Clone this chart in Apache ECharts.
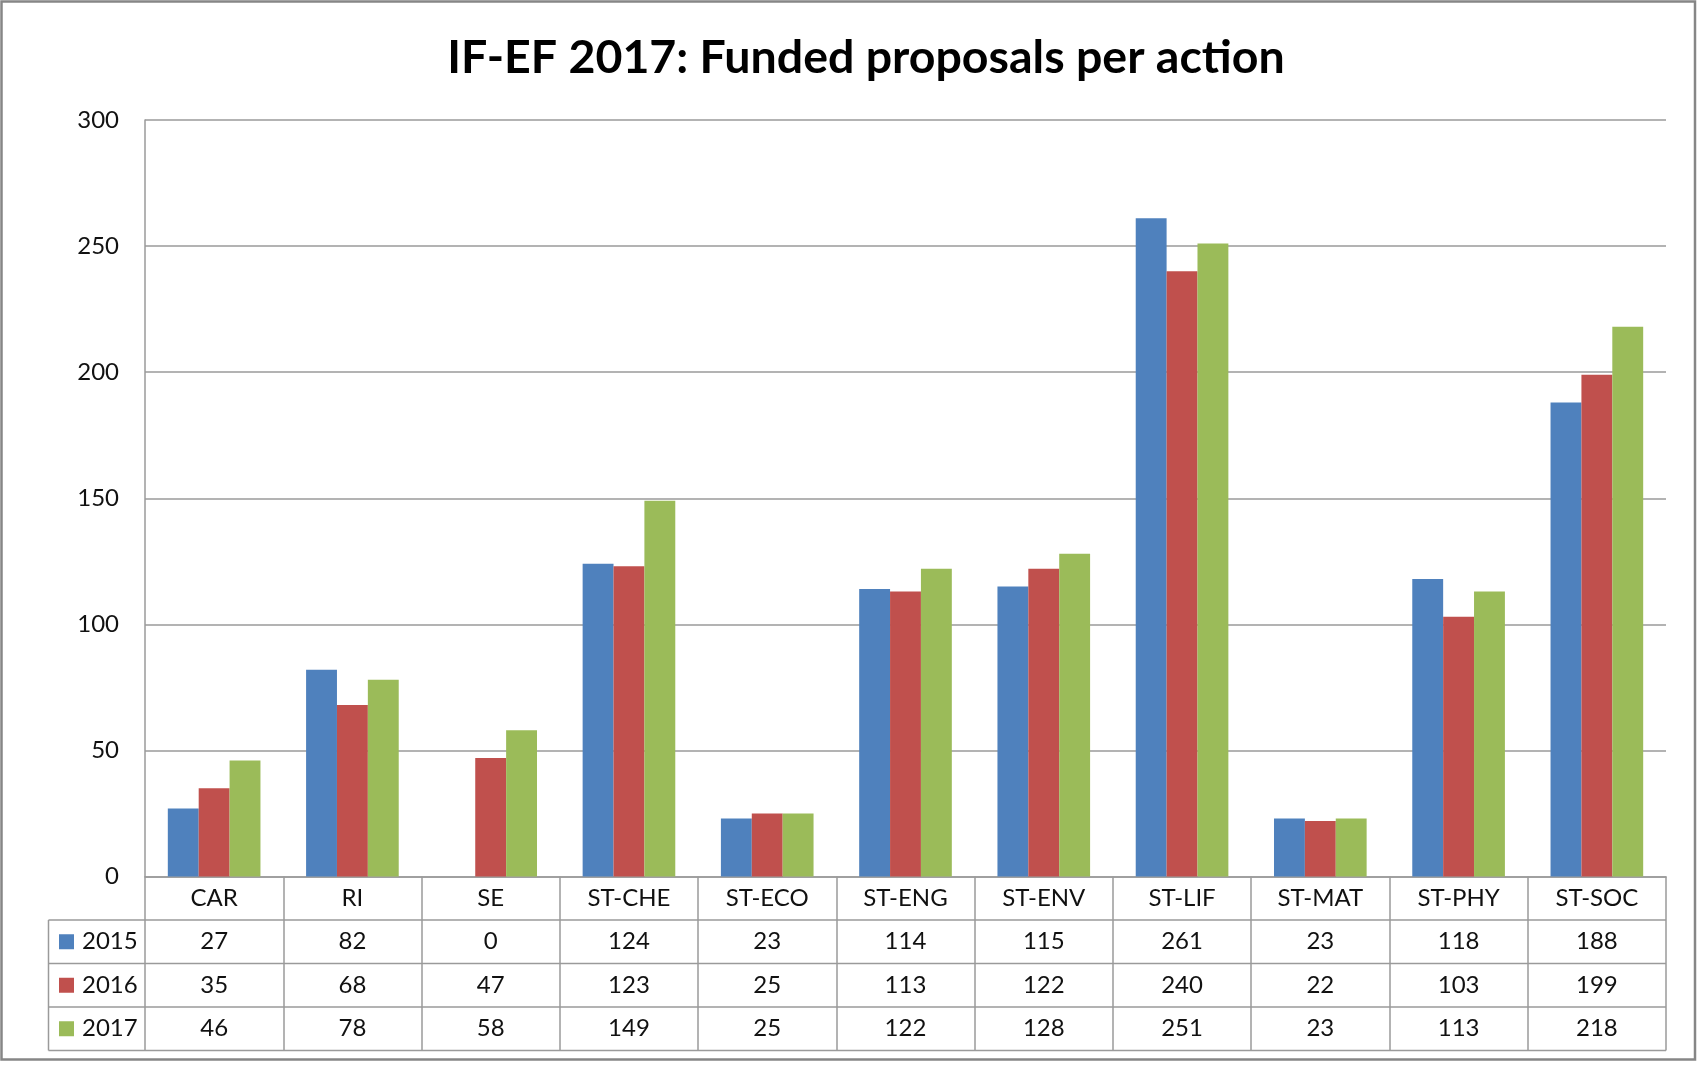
<!DOCTYPE html>
<html>
<head>
<meta charset="utf-8">
<title>IF-EF 2017: Funded proposals per action</title>
<script src="https://cdn.jsdelivr.net/npm/echarts@6/dist/echarts.min.js"></script>
<style>
  html, body { margin: 0; padding: 0; background: #fff; }
  #chart { width: 1698px; height: 1065px; }
</style>
</head>
<body>
<div id="chart"></div>
<script>
// Funded proposals per action and call year
const categories = ['CAR', 'RI', 'SE', 'ST-CHE', 'ST-ECO', 'ST-ENG', 'ST-ENV', 'ST-LIF', 'ST-MAT', 'ST-PHY', 'ST-SOC'];
const years = ['2015', '2016', '2017'];
const funded2015 = [27, 82, 0, 124, 23, 114, 115, 261, 23, 118, 188];
const funded2016 = [35, 68, 47, 123, 25, 113, 122, 240, 22, 103, 199];
const funded2017 = [46, 78, 58, 149, 25, 122, 128, 251, 23, 113, 218];
const yMin = 0, yMax = 300, yStep = 50;

const seriesValues = [funded2015, funded2016, funded2017];
const colors = ['#4F81BD', '#C0504D', '#9BBB59'];

// Layout of the plot and the data table beneath it
const W = 1698, H = 1065;
const GRID_LEFT = 145, GRID_RIGHT = 32, GRID_TOP = 120, GRID_BOTTOM = 188.5;
const ROW_H = 43.5;
const TABLE_LEFT = 48.5;
const LINE = '#9a9a9a';
const FONT = 'Lato, "Open Sans", sans-serif';
const TEXT = '#111';
const LABEL_SIZE = 24;

const plotBottom = H - GRID_BOTTOM;
const plotRight = W - GRID_RIGHT;

// Value rows of the data table, one category axis per row
const rowAxes = seriesValues.map((vals, k) => ({
  type: 'category',
  data: categories,
  gridIndex: 0,
  position: 'bottom',
  offset: ROW_H * (k + 1),
  axisLine: { show: false },
  axisTick: { show: false },
  axisLabel: {
    interval: 0,
    margin: ROW_H / 2,
    verticalAlign: 'middle',
    fontFamily: FONT,
    fontSize: LABEL_SIZE,
    color: TEXT,
    formatter: (v, i) => String(vals[i])
  }
}));

// Table grid lines
const tableLines = [];
for (let k = 1; k <= 4; k++) {
  const y = plotBottom + ROW_H * k;
  tableLines.push({
    type: 'line',
    shape: { x1: TABLE_LEFT, y1: y, x2: plotRight, y2: y },
    style: { stroke: LINE, lineWidth: 1.5 }
  });
}
tableLines.push({
  type: 'line',
  shape: { x1: TABLE_LEFT, y1: plotBottom + ROW_H, x2: TABLE_LEFT, y2: plotBottom + ROW_H * 4 },
  style: { stroke: LINE, lineWidth: 1.5 }
});
// Outer frame of the chart
tableLines.push({
  type: 'rect',
  shape: { x: 1.5, y: 1.5, width: W - 4.5, height: H - 7 },
  style: { fill: 'none', stroke: '#868686', lineWidth: 2.5 }
});

const chart = echarts.init(document.getElementById('chart'), null, { renderer: 'canvas' });

chart.setOption({
  animation: false,
  backgroundColor: '#fff',
  color: colors,
  title: {
    text: 'IF-EF 2017: Funded proposals per action',
    left: 861,
    top: 29,
    textAlign: 'center',
    textStyle: { fontFamily: FONT, fontWeight: 'bold', fontSize: 46.5, color: '#000' }
  },
  legend: {
    orient: 'vertical',
    left: 59,
    top: plotBottom + ROW_H,
    itemGap: 0,
    itemWidth: 15,
    itemHeight: 15,
    icon: 'rect',
    padding: 0,
    data: years,
    textStyle: { fontFamily: FONT, fontSize: LABEL_SIZE, color: TEXT, lineHeight: ROW_H, padding: [0, 0, 0, 3] }
  },
  grid: { left: GRID_LEFT, right: GRID_RIGHT, top: GRID_TOP, bottom: GRID_BOTTOM, containLabel: false },
  xAxis: [
    {
      type: 'category',
      data: categories,
      position: 'bottom',
      axisLine: { show: true, lineStyle: { color: LINE, width: 1.5 } },
      axisTick: { show: true, length: ROW_H * 4, lineStyle: { color: LINE, width: 1.5 } },
      axisLabel: {
        interval: 0,
        margin: ROW_H / 2,
        verticalAlign: 'middle',
        fontFamily: FONT,
        fontSize: LABEL_SIZE,
        color: TEXT
      }
    }
  ].concat(rowAxes),
  yAxis: {
    type: 'value',
    min: yMin,
    max: yMax,
    interval: yStep,
    axisLine: { show: true, lineStyle: { color: LINE, width: 1.5 } },
    axisTick: { show: false },
    splitLine: { show: true, lineStyle: { color: LINE, width: 1.5 } },
    axisLabel: { margin: 26, fontFamily: FONT, fontSize: LABEL_SIZE, color: TEXT }
  },
  series: years.map((y, k) => ({
    name: y,
    type: 'bar',
    xAxisIndex: 0,
    data: seriesValues[k],
    barGap: '0%',
    barCategoryGap: '33%',
    itemStyle: { color: colors[k] }
  })),
  graphic: tableLines
});
</script>
</body>
</html>
